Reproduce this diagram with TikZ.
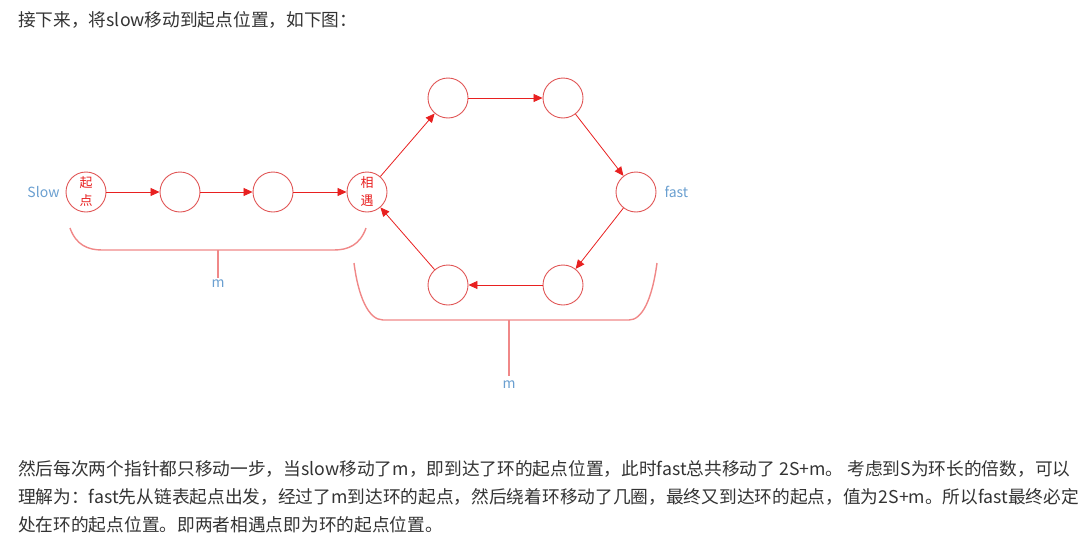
\documentclass[tikz,border=0pt]{standalone}
\usepackage{fontspec}
\setmainfont{Noto Sans CJK SC}
\newfontfamily\cjk{Noto Sans CJK SC}
\usetikzlibrary{arrows.meta}
\definecolor{txt}{HTML}{333333}
\definecolor{lbl}{HTML}{6A9FD0}
\definecolor{ring}{HTML}{E05555}
\definecolor{arr}{HTML}{E82020}
\definecolor{brc}{HTML}{F08888}
\tikzset{
  nd/.style={circle,draw=ring,line width=0.9pt,minimum size=40pt,inner sep=0pt,font=\fontsize{13}{14}\selectfont,text=arr,align=center},
  link/.style={draw=arr,line width=0.8pt,-{Triangle[length=9pt,width=8pt]}},
  brace/.style={draw=brc,line width=1.4pt},
  lab/.style={text=lbl,font=\fontsize{14}{16}\selectfont},
  para/.style={text=txt,anchor=west,inner sep=0pt,font=\fontsize{17.7}{20}\selectfont},
}
\begin{document}
\begin{tikzpicture}[x=1pt,y=-1pt]
\useasboundingbox (0,0) rectangle (1090,549);
\node[para] (t0) at (18,20) {接下来，将slow移动到起点位置，如下图：};
\node[nd] (a) at (86,192) {起\\[4pt]点};
\node[nd] (b) at (180,192) {};
\node[nd] (c) at (273,192) {};
\node[nd] (d) at (367,192) {相\\[4pt]遇};
\node[nd] (e) at (448,98) {};
\node[nd] (f) at (563,98) {};
\node[nd] (g) at (636,192) {};
\node[nd] (h) at (563,285) {};
\node[nd] (i) at (448,285) {};
\node[lab,anchor=east] (slow) at (63,192) {Slow};
\node[lab,anchor=west] (fast) at (661,192) {fast};
\draw[link] (a) -- (b);
\draw[link] (b) -- (c);
\draw[link] (c) -- (d);
\draw[link] (d) -- (e);
\draw[link] (e) -- (f);
\draw[link] (f) -- (g);
\draw[link] (g) -- (h);
\draw[link] (h) -- (i);
\draw[link] (i) -- (d);
% brace 1
\coordinate (b1l) at (70,228);
\coordinate (b1r) at (366,228);
\coordinate (b1m) at (218,250);
\coordinate (b1s) at (218,278);
\draw[brace] (b1l) .. controls (76,245) and (88,250) .. (102,250) -- (334,250) .. controls (348,250) and (360,245) .. (b1r);
\draw[brace] (b1m) -- (b1s);
\node[lab] (m1) at (218,284) {m};
% brace 2
\coordinate (b2l) at (354,263);
\coordinate (b2r) at (657,263);
\coordinate (b2m) at (509,320);
\coordinate (b2s) at (509,376);
\draw[brace] (b2l) .. controls (358,295) and (368,320) .. (383,320) -- (629,320) .. controls (642,320) and (652,300) .. (b2r);
\draw[brace] (b2m) -- (b2s);
\node[lab] (m2) at (509,385) {m};
\node[para] (p1) at (18,469) {然后每次两个指针都只移动一步，当slow移动了m，即到达了环的起点位置，此时fast总共移动了 2S+m。 考虑到S为环长的倍数，可以};
\node[para] (p2) at (18,497) {理解为：fast先从链表起点出发，经过了m到达环的起点，然后绕着环移动了几圈，最终又到达环的起点，值为2S+m。所以fast最终必定};
\node[para] (p3) at (18,525) {处在环的起点位置。即两者相遇点即为环的起点位置。};
\end{tikzpicture}
\end{document}
